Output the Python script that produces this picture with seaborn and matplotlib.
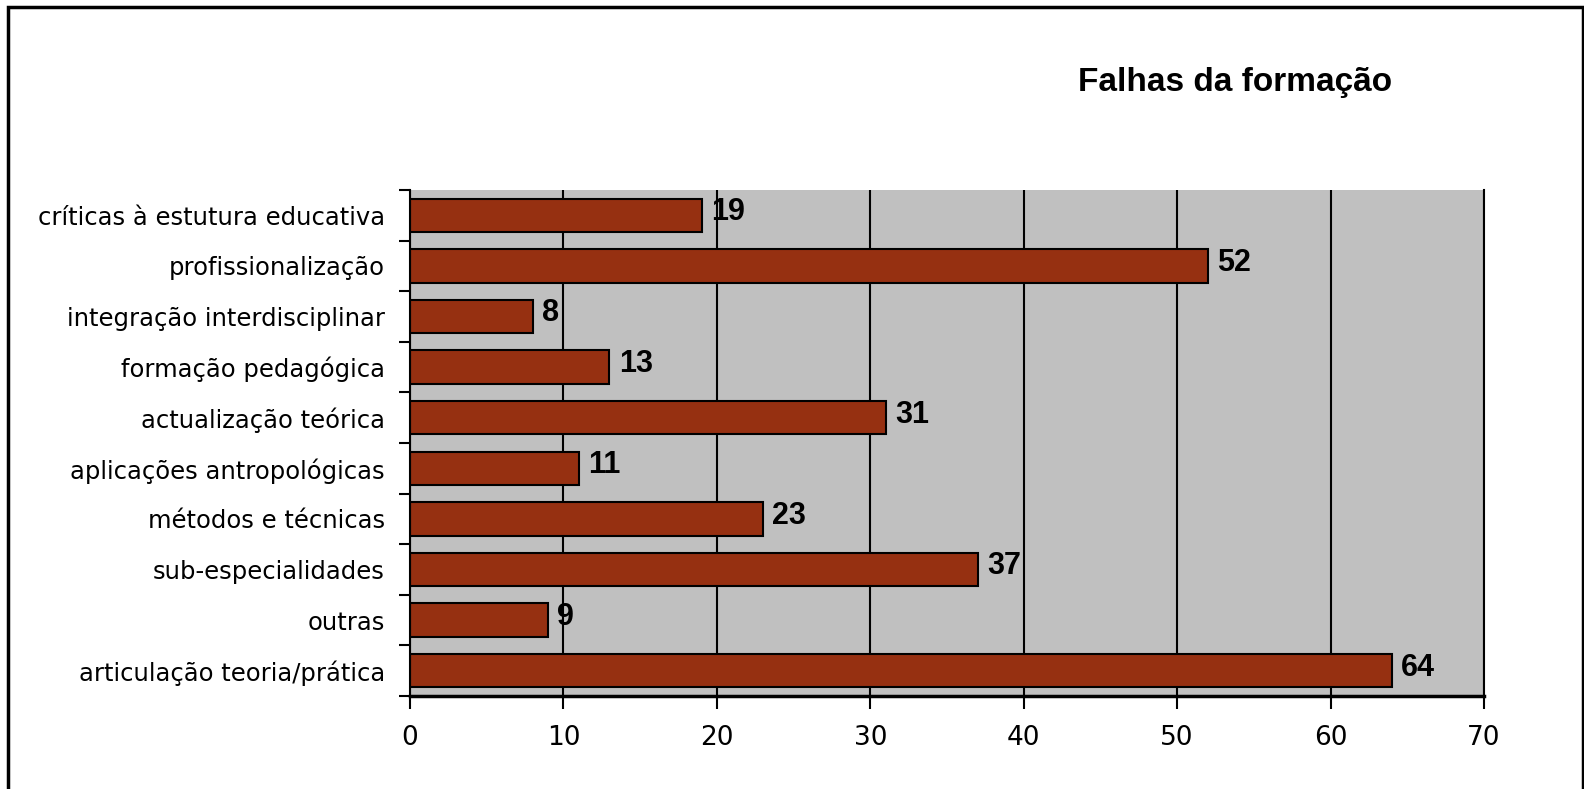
import pandas as pd
import seaborn as sns
import matplotlib.pyplot as plt
from matplotlib.patches import Rectangle

# data, top to bottom as in the chart
categorias = ["críticas à estutura educativa", "profissionalização",
              "integração interdisciplinar", "formação pedagógica",
              "actualização teórica", "aplicações antropológicas",
              "métodos e técnicas", "sub-especialidades", "outras",
              "articulação teoria/prática"]
valores = [19, 52, 8, 13, 31, 11, 23, 37, 9, 64]
x_ticks = [0, 10, 20, 30, 40, 50, 60, 70]

df = pd.DataFrame({"categoria": categorias, "valor": valores})

sns.set_style("white")
plt.rcParams['font.family'] = ['DejaVu Sans']
plt.rcParams['text.color'] = 'black'
plt.rcParams['xtick.color'] = 'black'
plt.rcParams['ytick.color'] = 'black'

fig = plt.figure(figsize=(15.84, 7.89), dpi=100)
W, H = 1584, 789
ax = fig.add_axes([410 / W, 1 - 696 / H, (1484 - 410) / W, (696 - 190) / H])
ax.set_facecolor("#C0C0C0")

sns.barplot(data=df, x="valor", y="categoria", orient="h", color="#963011",
            saturation=1, width=0.66, edgecolor="black", linewidth=1.5, ax=ax)

# value labels
for i, v in enumerate(valores):
    ax.text(v + 0.6, i - 0.06, str(v), va="center", ha="left",
            fontsize=22, fontweight="bold", family="Liberation Sans")

ax.set_xlim(0, 70)
ax.set_ylim(len(categorias) - 0.5, -0.5)
ax.set_xticks(x_ticks)
ax.set_xticklabels([str(t) for t in x_ticks], fontsize=19)
ax.xaxis.grid(True, color="black", linewidth=1.5)
ax.set_axisbelow(True)

# y ticks sit between categories, labels at category centres
ax.set_yticks([i - 0.5 for i in range(len(categorias) + 1)])
ax.set_yticklabels([])
ax.set_yticks(range(len(categorias)), minor=True)
ax.set_yticklabels(categorias, minor=True, fontsize=17.5)
ax.tick_params(axis="y", which="minor", left=False, length=0, pad=18)
ax.tick_params(axis="y", which="major", left=True, length=8, width=1.5,
               direction="out")
ax.tick_params(axis="x", bottom=True, length=9, width=1.5, direction="out",
               pad=12)

ax.set_xlabel("")
ax.set_ylabel("")
for side in ["left", "bottom", "right"]:
    ax.spines[side].set_visible(True)
    ax.spines[side].set_color("black")
    ax.spines[side].set_linewidth(1.5)
ax.spines["top"].set_visible(False)
ax.spines["bottom"].set_linewidth(2.5)

fig.text(1235 / W, 1 - 82 / H, "Falhas da formação", ha="center", va="center",
         fontsize=24, fontweight="bold", family="Liberation Sans")

# outer frame
fig.patches.append(Rectangle((8 / W, -0.01), (1583 - 8) / W, 1 - 7 / H + 0.01,
                             transform=fig.transFigure, fill=False,
                             edgecolor="black", linewidth=2.5))

fig.savefig("out.png", dpi=100)
